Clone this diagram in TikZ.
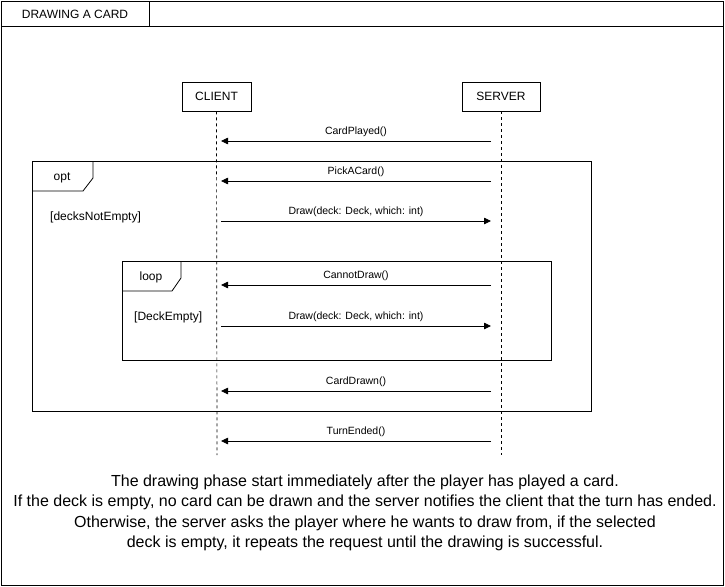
\documentclass[tikz,border=0pt]{standalone}
\usepackage{fontspec}
\setmainfont{Liberation Sans}
\usetikzlibrary{arrows.meta}
\begin{document}
\begin{tikzpicture}[x=1pt,y=-1pt,
  frameline/.style={draw=black,line width=0.8pt},
  headbox/.style={draw=black,line width=0.8pt,minimum width=69pt,minimum height=29pt,inner sep=0pt,font=\fontsize{12}{14}\selectfont},
  lifeline/.style={draw=black,line width=0.7pt,dash pattern=on 3pt off 3pt},
  msg/.style={draw=black,line width=0.8pt,-{Triangle[length=7pt,width=6.5pt]}},
  msglabel/.style={font=\fontsize{10.5}{12}\selectfont,inner sep=0pt},
  guard/.style={font=\fontsize{12}{14}\selectfont,inner sep=0pt,anchor=west},
  tablabel/.style={font=\fontsize{12}{14}\selectfont,inner sep=0pt}
]
\useasboundingbox (0,0) rectangle (725,586);
% outer frame
\draw[frameline] (1,1) rectangle (723,585);
\draw[frameline] (1,1) rectangle (149,26);
\draw[frameline] (149,26) -- (723,26);
\node[tablabel] (title) at (75,14) {DRAWING A CARD};

% heads
\node[headbox] (client) at (216.5,96.5) {CLIENT};
\node[headbox,minimum width=78pt] (server) at (501,96.5) {SERVER};
\coordinate (cend) at (217,455);
\coordinate (send) at (501,455);
\draw[lifeline] (client.south) -- (cend);
\draw[lifeline] (server.south) -- (send);

% message endpoints
\foreach \n/\y in {a/141,b/181,c/221,d/285,e/326,f/391,g/441}{
  \coordinate (c\n) at (221,\y);
  \coordinate (s\n) at (491,\y);
}

% opt frame
\draw[frameline] (32,161) rectangle (591,411);
\draw[frameline] (93,161) -- (93,178) -- (83,191) -- (32,191);
\node[tablabel] (optl) at (62,177.5) {opt};
\node[guard] (g1) at (50,217) {[decksNotEmpty]};

% loop frame
\draw[frameline] (122,261) rectangle (551,360);
\draw[frameline] (181,261) -- (181,278) -- (172,291) -- (122,291);
\node[tablabel] (loopl) at (151,277.5) {loop};
\node[guard] (g2) at (134,317) {[DeckEmpty]};

% messages
\draw[msg] (sa) -- node[msglabel,above=4pt] {CardPlayed()} (ca);
\draw[msg] (sb) -- node[msglabel,above=4pt] {PickACard()} (cb);
\draw[msg] (cc) -- node[msglabel,above=4pt] {Draw(deck: Deck, which: int)} (sc);
\draw[msg] (sd) -- node[msglabel,above=4pt] {CannotDraw()} (cd);
\draw[msg] (ce) -- node[msglabel,above=4pt] {Draw(deck: Deck, which: int)} (se);
\draw[msg] (sf) -- node[msglabel,above=4pt] {CardDrawn()} (cf);
\draw[msg] (sg) -- node[msglabel,above=4pt] {TurnEnded()} (cg);

% description
\node[align=center,font=\fontsize{16}{20.5}\selectfont,inner sep=0pt] (desc) at (365,513)
{The drawing phase start immediately after the player has played a card.\\
If the deck is empty, no card can be drawn and the server notifies the client that the turn has ended.\\
Otherwise, the server asks the player where he wants to draw from, if the selected\\
deck is empty, it repeats the request until the drawing is successful.};
\end{tikzpicture}
\end{document}
